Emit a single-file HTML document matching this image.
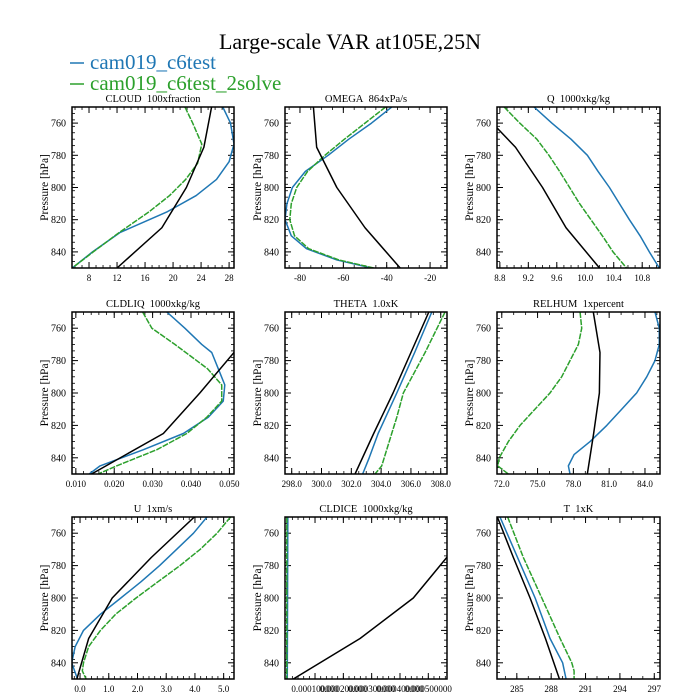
<!DOCTYPE html>
<html><head><meta charset="utf-8"><style>
html,body{margin:0;padding:0;background:#fff;}
svg{display:block;font-family:"Liberation Serif",serif;}
</style></head><body>
<svg id="c" width="700" height="700" viewBox="0 0 700 700" xmlns="http://www.w3.org/2000/svg">
<text x="350" y="49" text-anchor="middle" font-size="22">Large-scale VAR at105E,25N</text>
<g>
<line x1="70" y1="63" x2="84" y2="63" stroke="#1f77b4" stroke-width="1.5"/>
<text x="90" y="69" font-size="21" fill="#1f77b4">cam019_c6test</text>
<line x1="70" y1="84" x2="84" y2="84" stroke="#2ca02c" stroke-width="1.5"/>
<text x="90" y="90" font-size="21" fill="#2ca02c">cam019_c6test_2solve</text>
</g>
</svg>
<script>
// ---- data ----
const cloudPB=[750,760,773,784,795,805,815,828,840,850];
const cloudBlue=[27.1,28.2,28.7,28.0,26.2,23.3,19.2,12.4,8.5,5.6];
const cloudPG=[750,760,773,785,795,805,815,828,840,850];
const cloudGreen=[21.7,22.8,24.1,23.5,21.8,19.5,16.6,12.3,8.6,5.6];
const obsP=[750,775,800,825,850];
const cloudBlack=[25.5,24.4,21.9,18.4,12.0];

const omegaP=[750,760,770,780,790,800,810,820,830,838,845,850];
const omegaBlue=[-37.7,-47,-57.5,-67,-77.5,-83.5,-86,-86.9,-84,-77,-63,-47];
const omegaGreen=[-40.5,-50,-59.5,-68.5,-76.5,-81.5,-84,-84.7,-82.5,-76,-62,-46];
const omegaBlack=[-73.8,-72.3,-63,-50,-33.8];

const levP=[750,760,770,780,790,800,810,820,830,840,850];
const qBlue=[9.28,9.53,9.80,10.03,10.18,10.34,10.48,10.62,10.77,10.90,11.04];
const qGreen=[8.86,9.08,9.32,9.49,9.64,9.78,9.92,10.08,10.24,10.39,10.58];
const qBlackP=[750,763,775,800,825,850];
const qBlack=[8.6,8.76,9.02,9.40,9.73,10.20];

const liqPB=[750,760,770,775,785,795,805,815,825,835,845,850];
const liqBlue=[0.0337,0.0384,0.0428,0.0454,0.0471,0.0488,0.0484,0.0445,0.0380,0.0276,0.0163,0.0135];
const liqPG=[750,760,770,785,795,805,815,825,835,845,850];
const liqGreen=[0.0274,0.0298,0.0358,0.0443,0.0480,0.0480,0.0441,0.0389,0.0311,0.0206,0.0158];
const liqBlack=[0.0601,0.0512,0.0423,0.0328,0.0141];

const thPB=[750,775,800,815,825,840,850];
const thetaBlue=[307.4,306.25,305.05,304.3,303.8,303.2,302.76];
const thPG=[750,775,800,815,825,845,850];
const thetaGreen=[308.29,306.95,305.49,305.05,304.71,304.04,303.59];
const thetaBlack=[307.2,306.0,304.8,303.5,302.25];

const rhP=[750,760,770,780,790,800,810,820,830,838,845,850];
const rhBlue=[84.84,85.2,85.2,84.84,84.15,83.3,82.05,80.8,79.4,78.06,77.58,77.72];
const rhPG=[750,760,770,780,790,800,810,820,830,840,845,850];
const rhGreen=[78.56,78.7,78.42,77.72,77.02,76.04,74.78,73.53,72.55,71.79,71.66,72.55];
const rhBlack=[79.67,80.23,80.18,79.7,79.17];

const uP=[750,760,770,780,790,800,810,820,830,840,850];
const uBlue=[4.42,3.95,3.36,2.77,2.12,1.42,0.71,0.12,-0.17,-0.29,-0.09];
const uPG=[750,760,770,780,790,800,810,820,830,840,845,850];
const uGreen=[5.24,4.77,4.18,3.48,2.71,1.95,1.24,0.71,0.30,0.12,0.08,0.21];
const uBlack=[3.98,2.48,1.12,0.30,-0.11];

const iceP=[750,800,850];
const iceBlue=[0.000004,0.000003,0.000002];
const iceGreen=[0.0000005,0.0000003,0.0000002];
const iceBlack=[0.00068,0.000565,0.000447,0.000259,0.0000233];

const tP=[750,800,825,840,850];
const tBlue=[283.53,286.6,287.9,289.0,289.3];
const tPG=[750,775,800,825,840,845,850];
const tGreen=[284.2,285.57,287.18,288.78,289.8,290.0,290.0];
const tBlack=[283.3,284.7,286.16,287.5,288.72];

const pTicks=[760,780,800,820,840];

// ---- layout ----
const colX=[[72,234],[285,447],[497,660]];
const rowY=[[107,268],[312,474],[517,679]];
const NB='\u00a0\u00a0';
const panels=[
 {name:'cloud',title:'CLOUD'+NB+'100xfraction',dom:[5.57,28.7],ticks:[8,12,16,20,24,28],fmt:v=>String(v),minor:4,
  s:[[cloudPB,cloudBlue,'b'],[cloudPG,cloudGreen,'g'],[obsP,cloudBlack,'k']]},
 {name:'omega',title:'OMEGA'+NB+'864xPa/s',dom:[-86.9,-12.2],ticks:[-80,-60,-40,-20],fmt:v=>String(v),minor:4,
  s:[[omegaP,omegaBlue,'b'],[omegaP,omegaGreen,'g'],[obsP,omegaBlack,'k']]},
 {name:'q',title:'Q'+NB+'1000xkg/kg',dom:[8.76,11.05],ticks:[8.8,9.2,9.6,10.0,10.4,10.8],fmt:v=>v.toFixed(1),minor:4,
  s:[[levP,qBlue,'b'],[levP,qGreen,'g'],[qBlackP,qBlack,'k']]},
 {name:'cldliq',title:'CLDLIQ'+NB+'1000xkg/kg',dom:[0.0090,0.0512],ticks:[0.01,0.02,0.03,0.04,0.05],fmt:v=>v.toFixed(3),minor:5,
  s:[[liqPB,liqBlue,'b'],[liqPG,liqGreen,'g'],[obsP,liqBlack,'k']]},
 {name:'theta',title:'THETA'+NB+'1.0xK',dom:[297.55,308.42],ticks:[298,300,302,304,306,308],fmt:v=>v.toFixed(1),minor:4,
  s:[[thPB,thetaBlue,'b'],[thPG,thetaGreen,'g'],[obsP,thetaBlack,'k']]},
 {name:'relhum',title:'RELHUM'+NB+'1xpercent',dom:[71.6,85.26],ticks:[72,75,78,81,84],fmt:v=>v.toFixed(1),minor:3,
  s:[[rhP,rhBlue,'b'],[rhPG,rhGreen,'g'],[obsP,rhBlack,'k']]},
 {name:'u',title:'U'+NB+'1xm/s',dom:[-0.28,5.36],ticks:[0,1,2,3,4,5],fmt:v=>v.toFixed(1),minor:5,
  s:[[uP,uBlue,'b'],[uPG,uGreen,'g'],[obsP,uBlack,'k']]},
 {name:'cldice',title:'CLDICE'+NB+'1000xkg/kg',dom:[-0.000006,0.000566],ticks:[0.0001,0.0002,0.0003,0.0004,0.0005],fmt:v=>v.toFixed(7)+'00',minor:5,
  s:[[iceP,iceBlue,'b'],[iceP,iceGreen,'g'],[obsP,iceBlack,'k']]},
 {name:'t',title:'T'+NB+'1xK',dom:[283.27,297.5],ticks:[285,288,291,294,297],fmt:v=>String(v),minor:3,
  s:[[tP,tBlue,'b'],[tPG,tGreen,'g'],[obsP,tBlack,'k']]}
];
const col={b:'#1f77b4',g:'#2ca02c',k:'#000'};
const NS='http://www.w3.org/2000/svg';
const svg=document.getElementById('c');
function mk(tag,at,parent){const e=document.createElementNS(NS,tag);for(const k in at)e.setAttribute(k,at[k]);parent.appendChild(e);return e;}

panels.forEach((pn,i)=>{
 const [x0,x1]=colX[i%3],[y0,y1]=rowY[Math.floor(i/3)];
 const X=v=>x0+(v-pn.dom[0])/(pn.dom[1]-pn.dom[0])*(x1-x0);
 const Y=p=>y0+(p-750)/100*(y1-y0);
 const g=mk('g',{},svg);
 
 
 const cp=mk('clipPath',{id:'cp'+i},g);
 mk('rect',{x:x0,y:y0,width:x1-x0,height:y1-y0},cp);
 const t=mk('text',{x:(x0+x1)/2,y:y0-5,'text-anchor':'middle','font-size':'10.5'},g);
 t.textContent=pn.title;
 
 
 const yt=mk('text',{x:0,y:0,'text-anchor':'middle','font-size':'11.5',transform:`translate(${x0-24},${(y0+y1)/2}) rotate(-90)`},g);
 yt.textContent='Pressure [hPa]';
 
 
 for(let p=750;p<=850;p+=4){
   const yy=Y(p);
   mk('line',{x1:x0,x2:x0+3,y1:yy,y2:yy,stroke:'#000','stroke-width':0.8},g);
   mk('line',{x1:x1,x2:x1-3,y1:yy,y2:yy,stroke:'#000','stroke-width':0.8},g);
 }
 pTicks.forEach(p=>{
   const yy=Y(p);
   mk('line',{x1:x0,x2:x0+6,y1:yy,y2:yy,stroke:'#000','stroke-width':1},g);
   mk('line',{x1:x1,x2:x1-6,y1:yy,y2:yy,stroke:'#000','stroke-width':1},g);
   const l=mk('text',{x:x0-6,y:yy+3.5,'text-anchor':'end','font-size':'10'},g);
   l.textContent=String(p);
   
   
 });
 const step=pn.ticks[1]-pn.ticks[0];
 const ms=step/pn.minor;
 for(let v=pn.ticks[0]-step*3;v<=pn.dom[1];v+=ms){
   if(v<pn.dom[0])continue;
   const xx=X(v);
   mk('line',{x1:xx,x2:xx,y1:y1,y2:y1-3,stroke:'#000','stroke-width':0.8},g);
   mk('line',{x1:xx,x2:xx,y1:y0,y2:y0+3,stroke:'#000','stroke-width':0.8},g);
 }
 pn.ticks.forEach(v=>{
   const xx=X(v);
   mk('line',{x1:xx,x2:xx,y1:y1,y2:y1-6,stroke:'#000','stroke-width':1},g);
   mk('line',{x1:xx,x2:xx,y1:y0,y2:y0+6,stroke:'#000','stroke-width':1},g);
   const l=mk('text',{x:xx,y:y1+13,'text-anchor':'middle','font-size':'9'},g);
   l.textContent=pn.fmt(v);
   
   
 });
 pn.s.forEach(([ps,vs,c])=>{
   const d=ps.map((p,k)=>(k?'L':'M')+X(vs[k]).toFixed(2)+','+Y(p).toFixed(2)).join(' ');
   const at={d:d,fill:'none',stroke:col[c],'stroke-width':1.5,'clip-path':`url(#cp${i})`,'stroke-linejoin':'round'};
   if(c==='g')at['stroke-dasharray']='6,1.2';
   const pa=mk('path',at,g);
   
   
 });
 const fr=mk('rect',{x:x0,y:y0,width:x1-x0,height:y1-y0,fill:'none',stroke:'#000','stroke-width':1.5},g);
 
 
});
</script>
</body></html>
